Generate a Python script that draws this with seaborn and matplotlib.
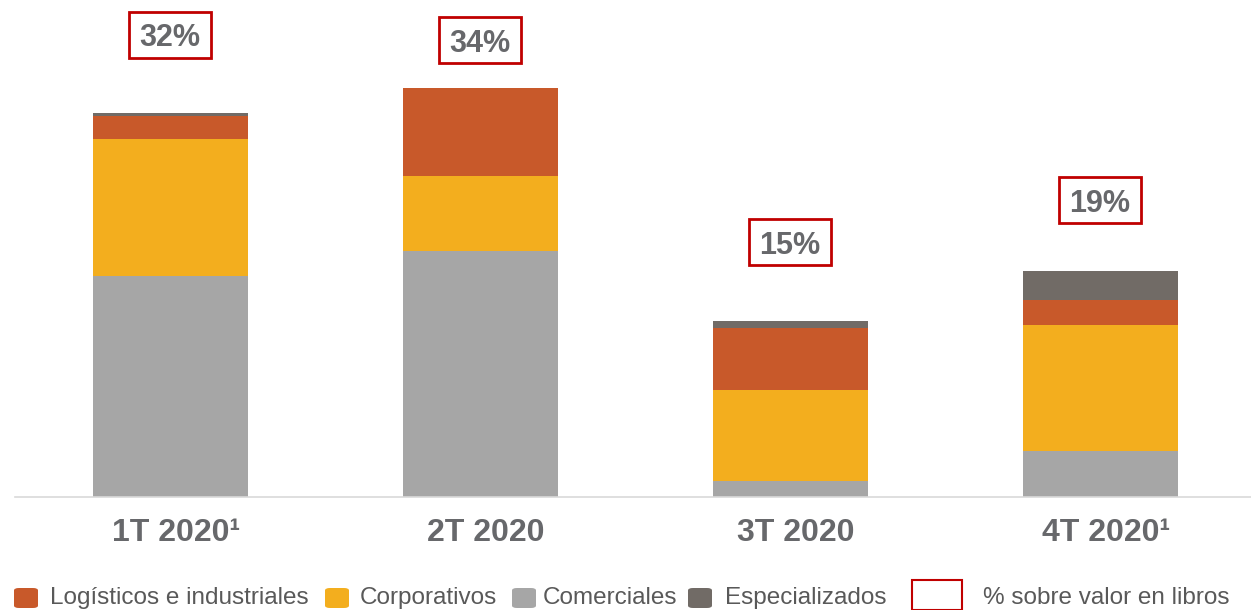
import matplotlib
matplotlib.use("Agg")
import matplotlib.pyplot as plt
from matplotlib.patches import FancyBboxPatch, Rectangle
from matplotlib.transforms import ScaledTranslation
import seaborn as sns
import pandas as pd
import numpy as np

# ---- data (arbitrary units) ----
quarters = ["1T 2020¹", "2T 2020", "3T 2020", "4T 2020¹"]
comerciales = [221, 246, 16, 46]
corporativos = [137, 75, 91, 126]
logisticos = [23, 88, 62, 25]
especializados = [3, 0, 7, 29]
pct_labels = ["32%", "34%", "15%", "19%"]
pct_label_y = [462, 457, 255, 297]

series_names = ["Comerciales", "Corporativos", "Logísticos e industriales", "Especializados"]
series_vals = [comerciales, corporativos, logisticos, especializados]
colors = {"Comerciales": "#A6A6A6", "Corporativos": "#F3AE1E",
          "Logísticos e industriales": "#C8592A", "Especializados": "#716B66"}

sns.set_theme(style="white")
plt.rcParams["font.family"] = ["Liberation Sans", "DejaVu Sans"]

W, H = 1251, 610
fig = plt.figure(figsize=(W / 100, H / 100), dpi=100)
base = 497
ax = fig.add_axes([15 / W, (H - base) / H, 1240 / W, base / H])

cum = np.cumsum(np.array(series_vals), axis=0)
df = pd.DataFrame({"quarter": quarters})
for i, name in enumerate(series_names):
    df[name] = cum[i]

# draw from top layer down so lower layers overlay
for i in reversed(range(len(series_names))):
    name = series_names[i]
    sns.barplot(data=df, x="quarter", y=name, color=colors[name], width=0.5,
                saturation=1, linewidth=0, ax=ax, order=quarters)

ax.set_xlim(-0.5, 3.5)
ax.set_ylim(0, base)
ax.set_xlabel("")
ax.set_ylabel("")
ax.set_yticks([])
for s in ["top", "right", "left"]:
    ax.spines[s].set_visible(False)
ax.spines["bottom"].set_color("#D9D9D9")
ax.spines["bottom"].set_linewidth(1.2)
ax.tick_params(axis="x", length=0, pad=15)
shift = ScaledTranslation(6 / 100, 0, fig.dpi_scale_trans)
for lbl in ax.get_xticklabels():
    lbl.set_fontsize(23)
    lbl.set_fontweight("bold")
    lbl.set_color("#67686B")
    lbl.set_transform(lbl.get_transform() + shift)

# percentage boxes (box 82x46 px; 1 data unit in y = 1 px, 1 unit in x = 310 px)
bw, bh = 82 / 310, 46
for i, (t, y) in enumerate(zip(pct_labels, pct_label_y)):
    ax.add_patch(Rectangle((i - bw / 2, y - bh / 2), bw, bh, facecolor="white",
                           edgecolor="#C00000", linewidth=2, zorder=5))
    ax.text(i, y, t, ha="center", va="center_baseline", fontsize=22,
            fontweight="bold", color="#67686B", zorder=6)

# ---- legend (manual, figure pixel coords) ----
txt_color = "#595959"
leg_y = 598
items = [("Logísticos e industriales", "#C8592A", 14, 50),
         ("Corporativos", "#F3AE1E", 325, 360),
         ("Comerciales", "#A6A6A6", 512, 543),
         ("Especializados", "#716B66", 688, 725)]
for label, c, sx, tx in items:
    p = FancyBboxPatch((sx / W, (H - 608) / H), 24 / W, 20 / H,
                       boxstyle="round,pad=0,rounding_size=0.004",
                       transform=fig.transFigure, facecolor=c, edgecolor="none")
    fig.patches.append(p)
    fig.text(tx / W, 1 - leg_y / H, label, fontsize=17.5, color=txt_color,
             ha="left", va="center")

rb = Rectangle((912 / W, 0 / H), 50 / W, 30 / H, transform=fig.transFigure,
               facecolor="white", edgecolor="#C00000", linewidth=1.5)
fig.patches.append(rb)
fig.text(983 / W, 1 - leg_y / H, "% sobre valor en libros", fontsize=17.5,
         color=txt_color, ha="left", va="center")

fig.savefig("out.png", dpi=100)
